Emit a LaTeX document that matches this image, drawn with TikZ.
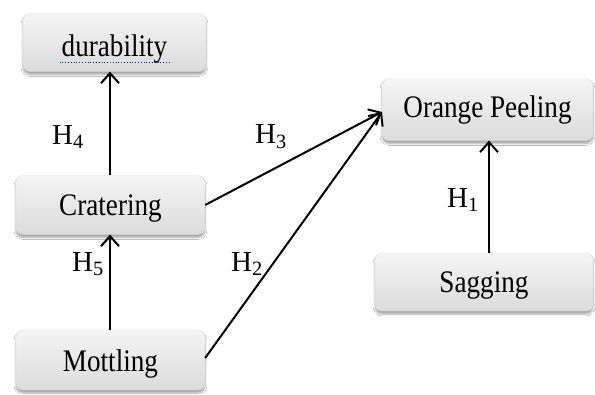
\documentclass[tikz,border=0pt]{standalone}
\usepackage{fontspec}
\usepackage{graphicx}
\setmainfont{Liberation Serif}
\usetikzlibrary{arrows.meta,shadows.blur}
\newcommand{\bxt}[2]{\raisebox{-#1}[0pt][0pt]{\scalebox{0.97}[1.12]{#2}}}
\begin{document}
\begin{tikzpicture}[x=1pt,y=-1pt,
  box/.style={rounded corners=7pt, top color=gray!8, bottom color=gray!28,
    draw=gray!30, line width=0.3pt, font=\fontsize{28}{30}\selectfont,
    blur shadow={shadow xshift=0pt, shadow yshift=-3pt, shadow blur steps=6, shadow opacity=35},
    inner sep=0pt, anchor=center},
  conn/.style={line width=2pt, -{Straight Barb[length=10pt,width=18pt,line width=2pt]}},
  hlab/.style={font=\fontsize{29}{30}\selectfont, inner sep=0pt}
]
\useasboundingbox (0,0) rectangle (595,394);
\fill[white] (0,0) rectangle (595,394);
\node[box, minimum width=183pt, minimum height=58pt] (dur) at (114.5,42.5) {\bxt{14pt}{durability}};
\node[box, minimum width=189pt, minimum height=59pt] (crat) at (110.5,205) {\bxt{10pt}{Cratering}};
\node[box, minimum width=189pt, minimum height=60pt] (mott) at (110.5,360) {\bxt{11pt}{Mottling}};
\node[box, minimum width=211pt, minimum height=62pt] (orange) at (487.5,109.5) {\bxt{8pt}{Orange Peeling}};
\node[box, minimum width=218pt, minimum height=58pt] (sag) at (484,282) {\bxt{10pt}{Sagging}};
\draw[blue, dotted, line width=0.8pt] ([xshift=-55pt,yshift=-20pt]dur.center) -- ([xshift=55pt,yshift=-20pt]dur.center);
\coordinate (cn) at ([xshift=-0.5pt]crat.north);
\coordinate (mn) at ([xshift=-0.5pt]mott.north);
\coordinate (oin) at (382,112);
\coordinate (sn) at ([xshift=5pt]sag.north);
\draw[conn] (cn) -- (cn |- dur.south);
\draw[conn] (mn) -- (mn |- crat.south);
\draw[conn] (crat.east) -- (oin);
\draw[conn] ([yshift=2pt]mott.east) -- (oin);
\draw[conn] (sn) -- (sn |- orange.south);
\node[hlab] (h4) at (68,137) {H\textsubscript{4}};
\node[hlab] (h3) at (271,137) {H\textsubscript{3}};
\node[hlab] (h5) at (88,264) {H\textsubscript{5}};
\node[hlab] (h2) at (247,264) {H\textsubscript{2}};
\node[hlab] (h1) at (463,200) {H\textsubscript{1}};
\end{tikzpicture}
\end{document}
